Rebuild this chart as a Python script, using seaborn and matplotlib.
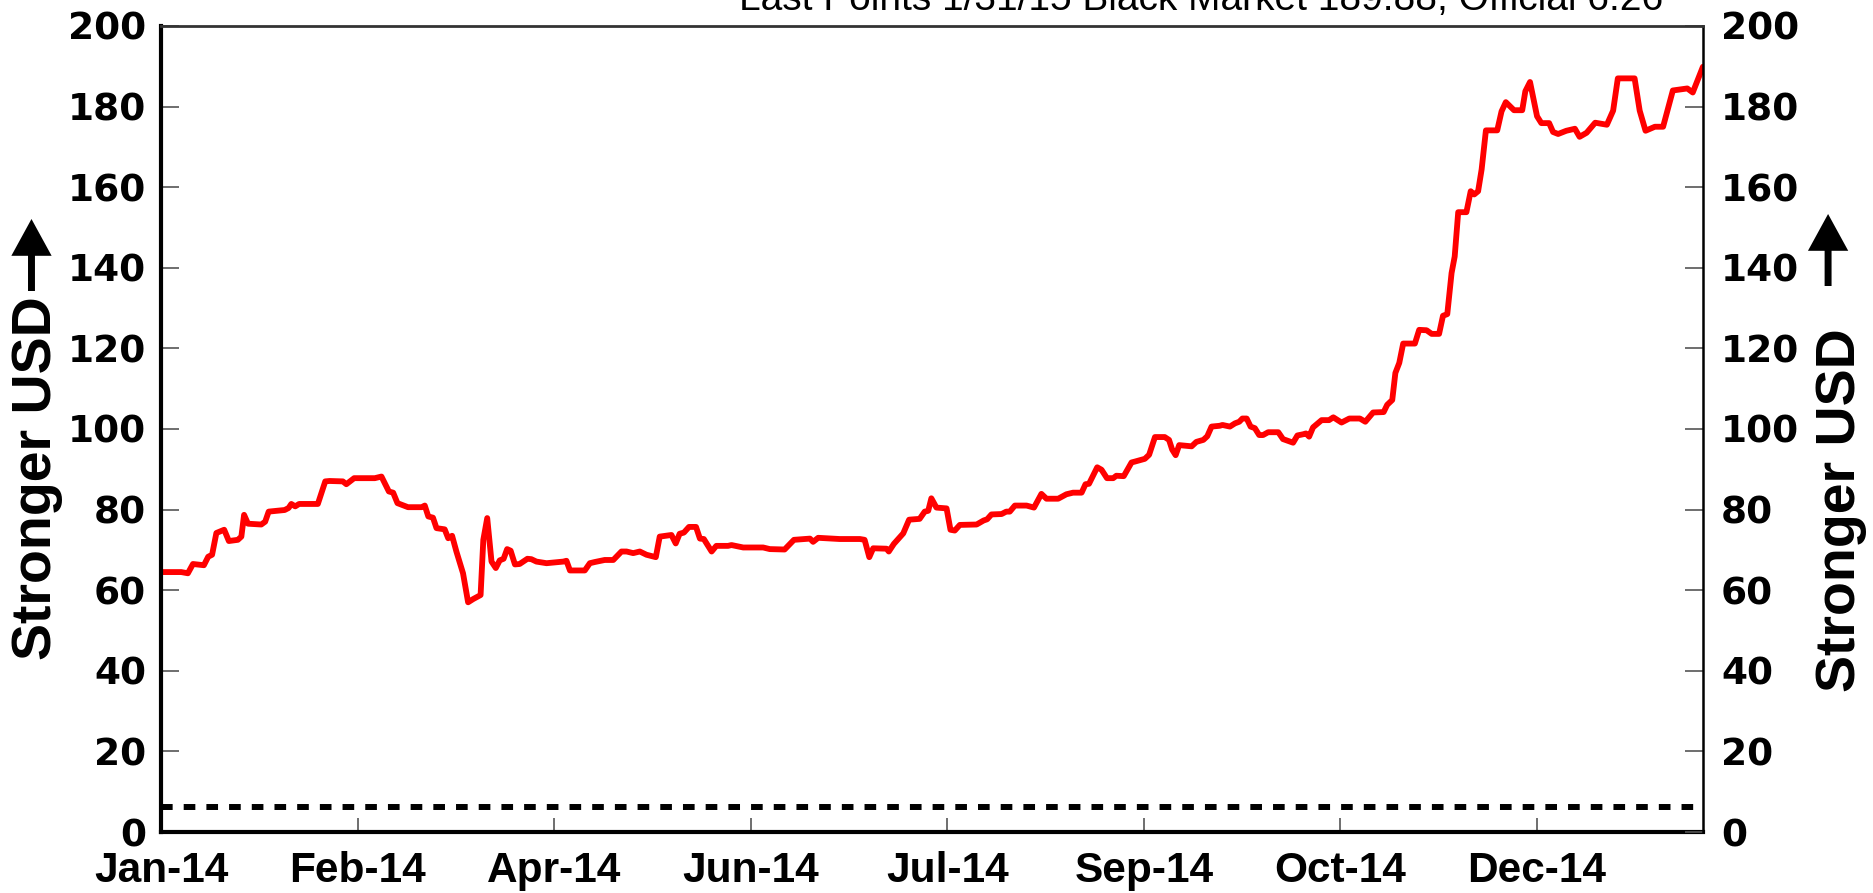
import pandas as pd
import matplotlib
matplotlib.use('Agg')
import matplotlib.pyplot as plt
from matplotlib.patches import FancyArrowPatch
import seaborn as sns

# Venezuela: USD vs bolivar, black market vs official rate
# days after 1 Jan 2014
day_offset = [
    0, 5.1, 6.8, 8.1, 10.9, 12.0, 13.0, 14.1, 16.1, 17.3, 19.6, 20.5, 21.2, 22.2,
    25.6, 26.6, 27.5, 31.6, 32.6, 33.3, 34.3, 35.3, 40.1, 42.0, 43.1, 46.5, 47.4,
    49.4, 54.7, 56.4, 58.3, 59.4, 60.5, 63.2, 66.7, 67.5, 68.4, 69.6, 70.5, 72.6,
    73.5, 74.5, 75.6, 77.3, 78.6, 79.9, 81.8, 82.5, 83.5, 84.6, 85.7, 86.7, 87.7,
    88.6, 89.5, 90.6, 91.8, 93.8, 94.8, 96.1, 98.7, 103.0, 103.8, 104.7, 108.5,
    109.8, 111.1, 113.6, 115.8, 117.9, 119.2, 120.9, 122.6, 124.3, 126.7, 127.7,
    130.7, 131.8, 132.8, 133.9, 135.2, 137.0, 138.0, 139.0, 141.0, 142.2, 145.2,
    146.1, 149.1, 154.2, 155.9, 159.7, 162.1, 166.2, 167.0, 168.3, 173.8, 179.0,
    180.2, 181.4, 182.4, 185.8, 186.4, 187.7, 190.1, 191.6, 194.3, 195.6, 196.5,
    197.3, 198.6, 201.2, 202.2, 203.3, 204.6, 208.9, 210.7, 211.6, 212.7, 215.3,
    216.5, 217.4, 218.7, 221.7, 223.6, 225.5, 226.8, 229.8, 231.9, 233.6, 235.8,
    236.8, 237.7, 239.8, 240.9, 242.3, 243.9, 244.7, 246.6, 248.6, 249.4, 252.0,
    253.1, 254.6, 257.1, 258.2, 259.0, 259.9, 260.8, 264.0, 265.2, 267.0, 268.0,
    269.1, 271.2, 271.9, 273.8, 275.1, 276.2, 277.0, 278.1, 279.1, 280.2, 281.3,
    282.3, 283.6, 286.2, 287.4, 290.0, 291.1, 292.6, 293.3, 294.1, 295.1, 297.3,
    299.2, 300.3, 302.4, 304.4, 307.1, 308.5, 310.5, 313.2, 314.1, 315.4, 316.2,
    317.2, 318.2, 321.2, 322.3, 324.2, 325.5, 327.4, 328.4, 329.5, 330.6, 331.4,
    332.3, 334.4, 335.5, 336.4, 337.4, 338.3, 339.4, 342.3, 343.4, 344.5, 346.6,
    348.7, 349.5, 350.7, 352.5, 353.6, 355.6, 356.6, 357.9, 360.0, 362.2, 363.4,
    365.2, 367.4, 370.4, 372.0, 373.2, 377.5, 378.8, 380.3, 382.7, 384.8, 387.3,
    391.0, 392.4, 395.0,
]
black_market = [
    64.5, 64.5, 64.2, 66.5, 66.2, 68.3, 68.8, 74.2, 75.0, 72.2, 72.5, 73.3, 78.7, 76.5,
    76.3, 77.0, 79.5, 79.9, 80.4, 81.4, 80.8, 81.4, 81.4, 87.0, 87.1, 87.0, 86.3,
    87.8, 87.8, 88.2, 84.5, 84.2, 81.6, 80.6, 80.6, 81.0, 78.3, 78.0, 75.4, 75.1,
    72.9, 73.5, 69.6, 64.2, 57.0, 57.8, 58.8, 72.5, 77.9, 67.1, 65.5, 67.4, 67.8,
    70.2, 69.8, 66.4, 66.5, 67.8, 67.7, 67.1, 66.7, 67.1, 67.3, 64.9, 64.9,
    66.7, 67.0, 67.5, 67.5, 69.6, 69.6, 69.2, 69.6, 68.8, 68.2, 73.3,
    73.7, 71.6, 74.0, 74.3, 75.7, 75.7, 72.8, 72.7, 69.6, 71.0, 71.0,
    71.2, 70.6, 70.6, 70.2, 70.1, 72.5, 72.8, 72.0, 73.0, 72.7, 72.7,
    72.5, 68.2, 70.4, 70.3, 69.6, 71.5, 74.1, 77.5, 77.7, 79.5, 79.7,
    82.8, 80.5, 80.3, 75.0, 74.8, 76.2, 76.3, 77.3, 77.6, 78.8, 78.9,
    79.5, 79.5, 81.0, 81.0, 80.5, 83.9, 82.7, 82.7, 83.8, 84.2, 84.2,
    86.3, 86.4, 90.5, 89.9, 87.8, 87.8, 88.4, 88.3, 91.7, 91.9, 92.6,
    93.6, 98.0, 98.0, 97.3, 94.9, 93.5, 96.0, 95.7, 96.8, 97.3, 98.2,
    100.6, 100.8, 101.0, 100.6, 101.4, 101.8, 102.6, 102.6, 100.6, 100.2, 98.5,
    98.5, 99.2, 99.2, 97.5, 96.6, 98.4, 98.7, 98.9, 98.1, 100.4, 102.2,
    102.2, 102.9, 101.6, 102.6, 102.6, 101.8, 104.1, 104.2, 106.0, 107.2, 113.9,
    116.4, 121.2, 121.2, 124.6, 124.5, 123.6, 123.6, 128.1, 128.5, 138.7, 142.8,
    153.8, 153.8, 159.0, 158.2, 159.0, 164.4, 174.1, 174.1, 178.8, 181.1, 179.1,
    179.1, 183.8, 186.1, 177.6, 175.9, 175.9, 173.7, 173.2, 174.0, 174.5, 172.5,
    173.5, 176.0, 175.5, 179.0, 187.0, 187.0, 179.0, 174.0, 175.0, 175.0, 184.0,
    184.5, 183.5, 189.88,
]
official_rate = 6.26

x_tick_labels = ['Jan-14', 'Feb-14', 'Apr-14', 'Jun-14', 'Jul-14', 'Sep-14', 'Oct-14', 'Dec-14']
x_tick_step_days = 50.35
y_ticks = [0, 20, 40, 60, 80, 100, 120, 140, 160, 180, 200]

sns.set_style('white')
plt.rcParams['font.family'] = ['Liberation Sans', 'DejaVu Sans']
plt.rcParams['text.color'] = 'black'
plt.rcParams['xtick.color'] = 'black'
plt.rcParams['ytick.color'] = 'black'

start = pd.Timestamp('2014-01-01')
df = pd.DataFrame({
    'date': start + pd.to_timedelta(day_offset, unit='D'),
    'black_market': black_market,
})
df['official'] = official_rate

fig = plt.figure(figsize=(18.74, 8.93), dpi=100)
ax = fig.add_axes([0.0861, 0.0683, 0.8226, 0.9026])

sns.lineplot(data=df, x='date', y='official', ax=ax, color='black', lw=4.3,
             dashes=False, linestyle=(0, (1.95, 1.85)))
ax.lines[-1].set_dash_capstyle('butt')
sns.lineplot(data=df, x='date', y='black_market', ax=ax, color='#ff0000', lw=4.2)

ax.set_xlim(start, start + pd.Timedelta(days=395))
ax.set_ylim(0, 200)
tick_pos = [start + pd.Timedelta(days=i * x_tick_step_days) for i in range(len(x_tick_labels))]
ax.set_xticks(tick_pos)
ax.set_xticklabels(x_tick_labels, fontfamily='Liberation Sans', fontweight='bold', fontsize=30.5)
ax.set_yticks(y_ticks)
ax.set_yticklabels([str(v) for v in y_ticks], fontfamily='DejaVu Sans', fontweight='bold', fontsize=27)
ax.set_xlabel('')
ax.set_ylabel('')
ax.tick_params(axis='y', direction='in', length=13, width=1.2, color='#555555',
               labelcolor='black', pad=11, left=True)
ax.tick_params(axis='x', direction='in', length=10, width=1.2, color='#555555',
               labelcolor='black', pad=13.5, bottom=True)

ax2 = ax.twinx()
ax2.set_ylim(0, 200)
ax2.set_yticks(y_ticks)
ax2.set_yticklabels([str(v) for v in y_ticks], fontfamily='DejaVu Sans', fontweight='bold', fontsize=27)
ax2.tick_params(axis='y', direction='in', length=13, width=1.2, color='#555555',
                labelcolor='black', pad=13, right=True)

for sp in ['left', 'bottom']:
    ax.spines[sp].set_linewidth(3)
    ax.spines[sp].set_color('black')
    ax2.spines[sp].set_visible(False)
ax2.spines['right'].set_linewidth(1.8)
ax2.spines['right'].set_color('black')
ax.spines['right'].set_visible(False)
ax.spines['top'].set_visible(False)
ax2.spines['top'].set_linewidth(2)
ax2.spines['top'].set_color('#333333')

# "Stronger USD" labels with arrows on both sides
for tx, ty, arr_x, tip_y in [(0.0200, 478, 0.0168, 219), (0.9822, 510, 0.9755, 214)]:
    fig.text(tx, 1 - ty / 893, 'Stronger USD', rotation=90, ha='center', va='center',
             fontfamily='Liberation Sans', fontweight='bold', fontsize=40)
    fig.patches.append(FancyArrowPatch(
        (arr_x, 1 - (tip_y + 72) / 893), (arr_x, 1 - tip_y / 893), transform=fig.transFigure,
        arrowstyle='simple,head_width=2.9,head_length=2.65,tail_width=0.5',
        mutation_scale=10, shrinkA=0, shrinkB=0, lw=0, color='black'))

fig.text(1201 / 1874, 1 - 10 / 893, 'Last Points 1/31/15 Black Market 189.88; Official 6.26',
         ha='center', va='baseline', fontsize=28)

fig.savefig('out.png', dpi=100)
